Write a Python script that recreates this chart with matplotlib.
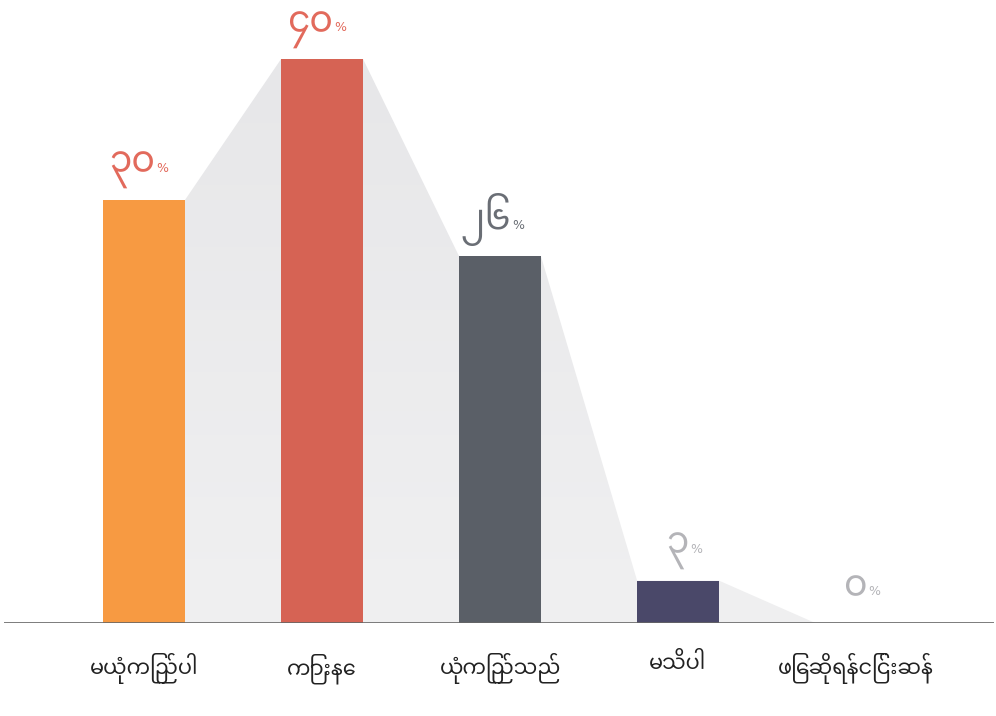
import numpy as np
import matplotlib.pyplot as plt
from matplotlib.patches import Polygon

# survey answers (Myanmar) and their shares in percent
categories = ['မယုံကြည်ပါ', 'ကြားနေ', 'ယုံကြည်သည်', 'မသိပါ', 'ဖြေဆိုရန်ငြင်းဆန်']
values = [30, 40, 26, 3, 0]
value_labels = ['၃၀', '၄၀', '၂၆', '၃', '၀']

bar_colors = ['#F79A42', '#D66354', '#5A5F67', '#4A4869', '#cccccc']
label_colors = ['#E26A5C', '#E26A5C', '#6A6E75', '#B4B4B8', '#B4B4B8']

myanmar_fonts = ['Noto Sans Myanmar', 'Padauk', 'Myanmar Text', 'Noto Sans', 'DejaVu Sans']

fig = plt.figure(figsize=(9.96, 7.16), dpi=100)
ax = fig.add_axes([0.004, 0.13, 0.994, 0.87])

x = list(range(len(categories)))
width = 0.46

# grey "mountain" that links the bar tops, lighter towards the bottom
pts = [(x[0] + width / 2, 0), (x[0] + width / 2, values[0])]
for i in range(len(x) - 1):
    pts.append((x[i + 1] - width / 2, values[i + 1]))
    if i + 1 < len(x) - 1:
        pts.append((x[i + 1] + width / 2, values[i + 1]))
pts.append((x[-1] - width / 2, 0))
mountain = Polygon(pts, closed=True, facecolor='none', edgecolor='none')
ax.add_patch(mountain)
grad = np.linspace(0, 1, 256).reshape(-1, 1)
img = ax.imshow(grad, extent=[x[0], x[-1], 0, max(values)], origin='lower',
                cmap=plt.matplotlib.colors.LinearSegmentedColormap.from_list('g', ['#F0F0F1', '#E7E7E9']),
                aspect='auto', zorder=1)
img.set_clip_path(mountain)

ax.bar(x, values, width=width, color=bar_colors, zorder=2)

for i, v in enumerate(values):
    ax.annotate(value_labels[i], (x[i] + 0.06, v), xytext=(0, 20), textcoords='offset points',
                ha='right', va='baseline', fontsize=26, color=label_colors[i],
                family=myanmar_fonts, fontweight=200)
    ax.annotate('%', (x[i] + 0.07, v), xytext=(0, 20), textcoords='offset points',
                ha='left', va='baseline', fontsize=9, color=label_colors[i])

ax.axhline(0, color='#666666', linewidth=1.2, zorder=3)

ax.set_xlim(-0.787, 4.775)
ax.set_ylim(0, 44.18)
ax.set_xticks(x)
ax.set_xticklabels(categories, family=myanmar_fonts, fontsize=15, color='#222222')
ax.tick_params(axis='x', length=0, pad=22)
ax.set_yticks([])
for s in ax.spines.values():
    s.set_visible(False)

fig.savefig('out.png', dpi=100)
